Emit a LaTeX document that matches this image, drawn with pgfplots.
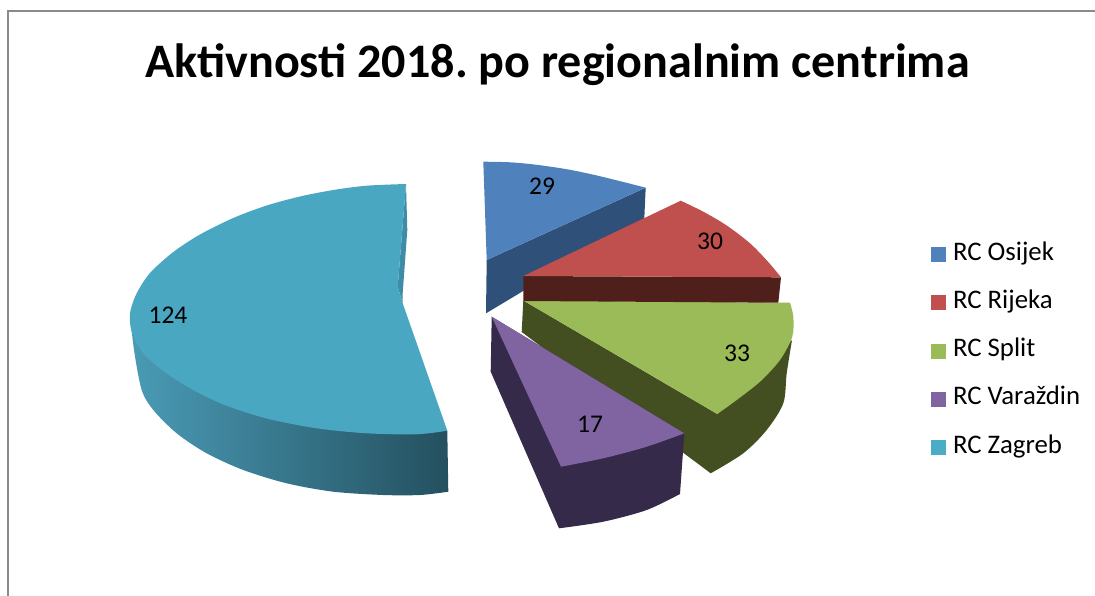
\documentclass[border=0pt]{standalone}
\usepackage{fontspec}
\setmainfont{Carlito}
\usepackage{pgfplots}
\pgfplotsset{compat=1.18}
\definecolor{cO}{HTML}{4F81BD}\definecolor{cOw}{HTML}{2F5078}
\definecolor{cR}{HTML}{C0504D}\definecolor{cRw}{HTML}{4F1F1C}
\definecolor{cS}{HTML}{9BBB59}\definecolor{cSw}{HTML}{434F20}
\definecolor{cV}{HTML}{8064A2}\definecolor{cVw}{HTML}{352A4A}
\definecolor{cZ}{HTML}{4BACC6}\definecolor{cZt}{HTML}{4AA7C2}
\definecolor{cZa}{HTML}{4A9BB6}\definecolor{cZb}{HTML}{24505F}\definecolor{cZs}{HTML}{3F8CA6}
\definecolor{frame}{HTML}{8A8A8A}
\frenchspacing
\begin{document}
\begin{tikzpicture}
\begin{axis}[
  scale only axis, width=1095pt, height=596pt,
  xmin=0, xmax=1095, ymin=0, ymax=596, y dir=reverse,
  axis line style={draw=none}, ticks=none, clip=true,
  legend cell align=left,
  legend style={at={(axis cs:931,240)}, anchor=north west, draw=none, fill=none,
    inner sep=0pt, outer sep=0pt, font=\fontsize{26.8}{30}\selectfont,
    row sep=24.3pt,
    nodes={inner sep=0pt, outer sep=0pt, text height=20pt, text depth=4pt}},
  legend image code/.code={\fill[#1] (0pt,-10pt) rectangle (15pt,5pt);},
  every axis plot/.append style={mark=none, draw=none, forget plot},
]
\addlegendimage{fill=cO}\addlegendentry{\hspace{7pt}RC Osijek}
\addlegendimage{fill=cR}\addlegendentry{\hspace{7pt}RC Rijeka}
\addlegendimage{fill=cS}\addlegendentry{\hspace{7pt}RC Split}
\addlegendimage{fill=cV}\addlegendentry{\hspace{7pt}RC Varaždin}
\addlegendimage{fill=cZ}\addlegendentry{\hspace{7pt}RC Zagreb}
% frame
\addplot[draw=frame, line width=2pt] coordinates {(7.5,596) (7.5,11.5) (1095,11.5)};
% Zagreb
\addplot[smooth, left color=cZa, right color=cZb] coordinates {(130,313.3)(134,350)(141.7,390)(153.3,410)(176.7,433.3)(206.7,453.3)(243.3,470)(286.7,483.3)(333.3,491.7)(383.3,495)(420,495)(448.3,491.7)} -- (axis cs:447.3,430.7) -- (axis cs:300,380) -- cycle;
\addplot[fill=cZs] coordinates {(406,184)(407.3,230)(402.7,293.3)(402.7,303.3)(397.7,286.7)} -- cycle;
\addplot[smooth, fill=cZt] coordinates {(406,184)(366.7,185.7)(333.3,190)(300,196.5)(266.7,205.5)(233.3,218)(200,234.5)(173.3,252)(150,273)(136.7,293.3)(130,313.3)(132,333)(143.3,353.3)(163.3,371)(190,388.3)(223.3,404.5)(266.7,418.5)(316.7,428.3)(366.7,433.3)(416.7,434.3)(447.3,430.7)} -- (axis cs:402.7,303.3) -- (axis cs:397.7,286.7) -- cycle;
% Osijek
\addplot[fill=cOw] coordinates {(645.7,187.7)(644.3,218.3)(486,313.3)(486.7,260)} -- cycle;
\addplot[smooth, fill=cO] coordinates {(483.3,161.7)(510,162.3)(536.7,164.8)(570,169.8)(603.3,177)(645.7,187.7)} -- (axis cs:486.7,260) -- cycle;
% Split
\addplot[smooth, fill=cSw] coordinates {(792,340)(786.7,373.3)(783.3,403.3)(766.7,430)(743.3,453.3)(710.7,473.3)} -- (axis cs:521.7,332) -- (axis cs:523.3,300.5) -- (axis cs:717.3,414) -- cycle;
\addplot[smooth, fill=cS] coordinates {(790,302.7)(793.3,316.7)(792.3,336.7)(780,360)(760,381.7)(736.7,400)(717.3,414)} -- (axis cs:523.3,300.5) -- cycle;
% Rijeka
\addplot[fill=cRw] coordinates {(523.3,276)(781,277.3)(778.3,302.7)(523.3,301)} -- cycle;
\addplot[smooth, fill=cR] coordinates {(680.7,200.7)(703.3,211.7)(726.7,225.5)(750,243.3)(768,261.7)(781,277.3)} -- (axis cs:523.3,276) -- cycle;
% Varazdin
\addplot[smooth, fill=cVw] coordinates {(680,494)(646.7,510)(603.3,521.7)(559,528.3)} -- (axis cs:490.7,371.7) -- (axis cs:491.7,316.7) -- (axis cs:684.3,433.3) -- cycle;
\addplot[smooth, fill=cV] coordinates {(684.3,433.3)(646.7,446.7)(603.3,458.3)(561,466.7)} -- (axis cs:491.7,316.7) -- cycle;
% labels
\node[font=\fontsize{25.5}{30}\selectfont] at (axis cs:542,186) {29};
\node[font=\fontsize{25.5}{30}\selectfont] at (axis cs:710,241) {30};
\node[font=\fontsize{25.5}{30}\selectfont] at (axis cs:737,353) {33};
\node[font=\fontsize{25.5}{30}\selectfont] at (axis cs:590,424) {17};
\node[font=\fontsize{25.5}{30}\selectfont] at (axis cs:168,315) {124};
\node[font=\bfseries\fontsize{48.1}{56}\selectfont] at (axis cs:557.5,65) {Aktivnosti 2018. po regionalnim centrima};
\end{axis}
\end{tikzpicture}
\end{document}
